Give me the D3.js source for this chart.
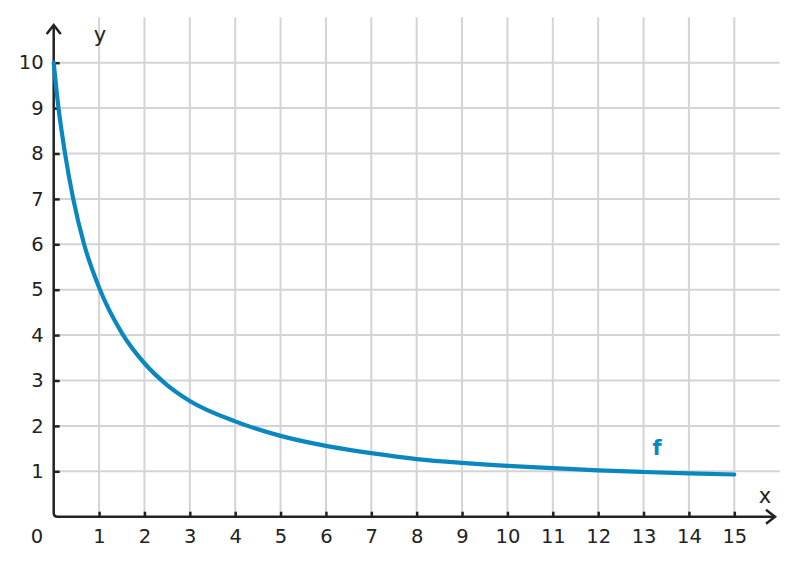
<!DOCTYPE html>
<html>
<head>
<meta charset="utf-8">
<script src="https://cdn.jsdelivr.net/npm/d3@7"></script>
<style>
  body { margin: 0; background: #fff; }
  svg text { font-family: "DejaVu Sans", sans-serif; fill: #222; }
  .axis .domain { display: none; }
  .axis line { stroke: #222; stroke-width: 2.5; }
  .axis text { font-size: 19.5px; }
</style>
</head>
<body>
<div id="chart"></div>
<script>
// values
const xVals = [0, 0.1, 0.25, 0.43, 0.67, 1, 1.5, 2, 2.5, 3, 4, 5, 6, 7, 8, 9, 10, 11, 12, 13, 14, 15];
const yVals = [10, 9.05, 8, 7, 6, 5.05, 4.05, 3.38, 2.9, 2.55, 2.1, 1.78, 1.56, 1.4, 1.27, 1.185, 1.12, 1.07, 1.02, 0.985, 0.955, 0.93];
const xTicks = d3.range(1, 16);
const yTicks = d3.range(1, 11);

const width = 798, height = 565;
const svg = d3.select("#chart").append("svg")
    .attr("width", width)
    .attr("height", height);

// scales
const x = d3.scaleLinear().domain([0, 15]).range([53.7, 734.3]);
const y = d3.scaleLinear().domain([0, 10]).range([516.7, 62.7]);

// grid
const grid = svg.append("g").attr("stroke", "#d4d4d4").attr("stroke-width", 2);
grid.selectAll(".vx")
    .data(xTicks)
    .enter().append("line")
    .attr("x1", d => x(d)).attr("x2", d => x(d))
    .attr("y1", y(11)).attr("y2", y(0));
grid.selectAll(".hy")
    .data(yTicks)
    .enter().append("line")
    .attr("x1", x(0)).attr("x2", x(16))
    .attr("y1", d => y(d)).attr("y2", d => y(d));

// axes (ticks + labels)
svg.append("g")
    .attr("class", "axis")
    .attr("transform", "translate(0," + y(0) + ")")
    .call(d3.axisBottom(x).tickValues(xTicks).tickSize(-5).tickPadding(12).tickFormat(d3.format("d")));

svg.append("g")
    .attr("class", "axis")
    .attr("transform", "translate(" + x(0) + ",0)")
    .call(d3.axisLeft(y).tickValues(yTicks).tickSize(-6).tickPadding(10).tickFormat(d3.format("d")));

// axis lines with arrows
const ax = x(0), ay = y(0);
svg.append("path")
    .attr("fill", "none")
    .attr("stroke", "#222")
    .attr("stroke-width", 2.5)
    .attr("d", "M" + ax + "," + 25 + "L" + ax + "," + (ay - 4) +
        "Q" + ax + "," + ay + " " + (ax + 4) + "," + ay + "L" + 774 + "," + ay);
svg.append("path")
    .attr("fill", "none")
    .attr("stroke", "#222")
    .attr("stroke-width", 2.5)
    .attr("stroke-linejoin", "miter")
    .attr("d", "M" + (ax - 7) + ",34L" + ax + ",25L" + (ax + 7) + ",34" +
        "M766," + (ay - 7) + "L775," + ay + "L766," + (ay + 7));

// labels
svg.append("text").attr("x", 37).attr("y", 543).attr("text-anchor", "middle")
    .attr("font-size", 19.5).text("0");
svg.append("text").attr("x", 100).attr("y", 42).attr("text-anchor", "middle")
    .attr("font-size", 21).text("y");
svg.append("text").attr("x", 765).attr("y", 503).attr("text-anchor", "middle")
    .attr("font-size", 21).text("x");

// curve
const pts = xVals.map((d, i) => [d, yVals[i]]);
svg.append("path")
    .datum(pts)
    .attr("fill", "none")
    .attr("stroke", "#0a87bf")
    .attr("stroke-width", 4.2)
    .attr("stroke-linecap", "round")
    .attr("d", d3.line()
        .x(d => x(d[0]))
        .y(d => y(d[1]))
        .curve(d3.curveMonotoneX));

svg.append("text")
    .attr("x", x(13.3)).attr("y", 455)
    .attr("text-anchor", "middle")
    .attr("font-size", 21)
    .attr("font-weight", "bold")
    .style("fill", "#0a87bf")
    .text("f");
</script>
</body>
</html>
